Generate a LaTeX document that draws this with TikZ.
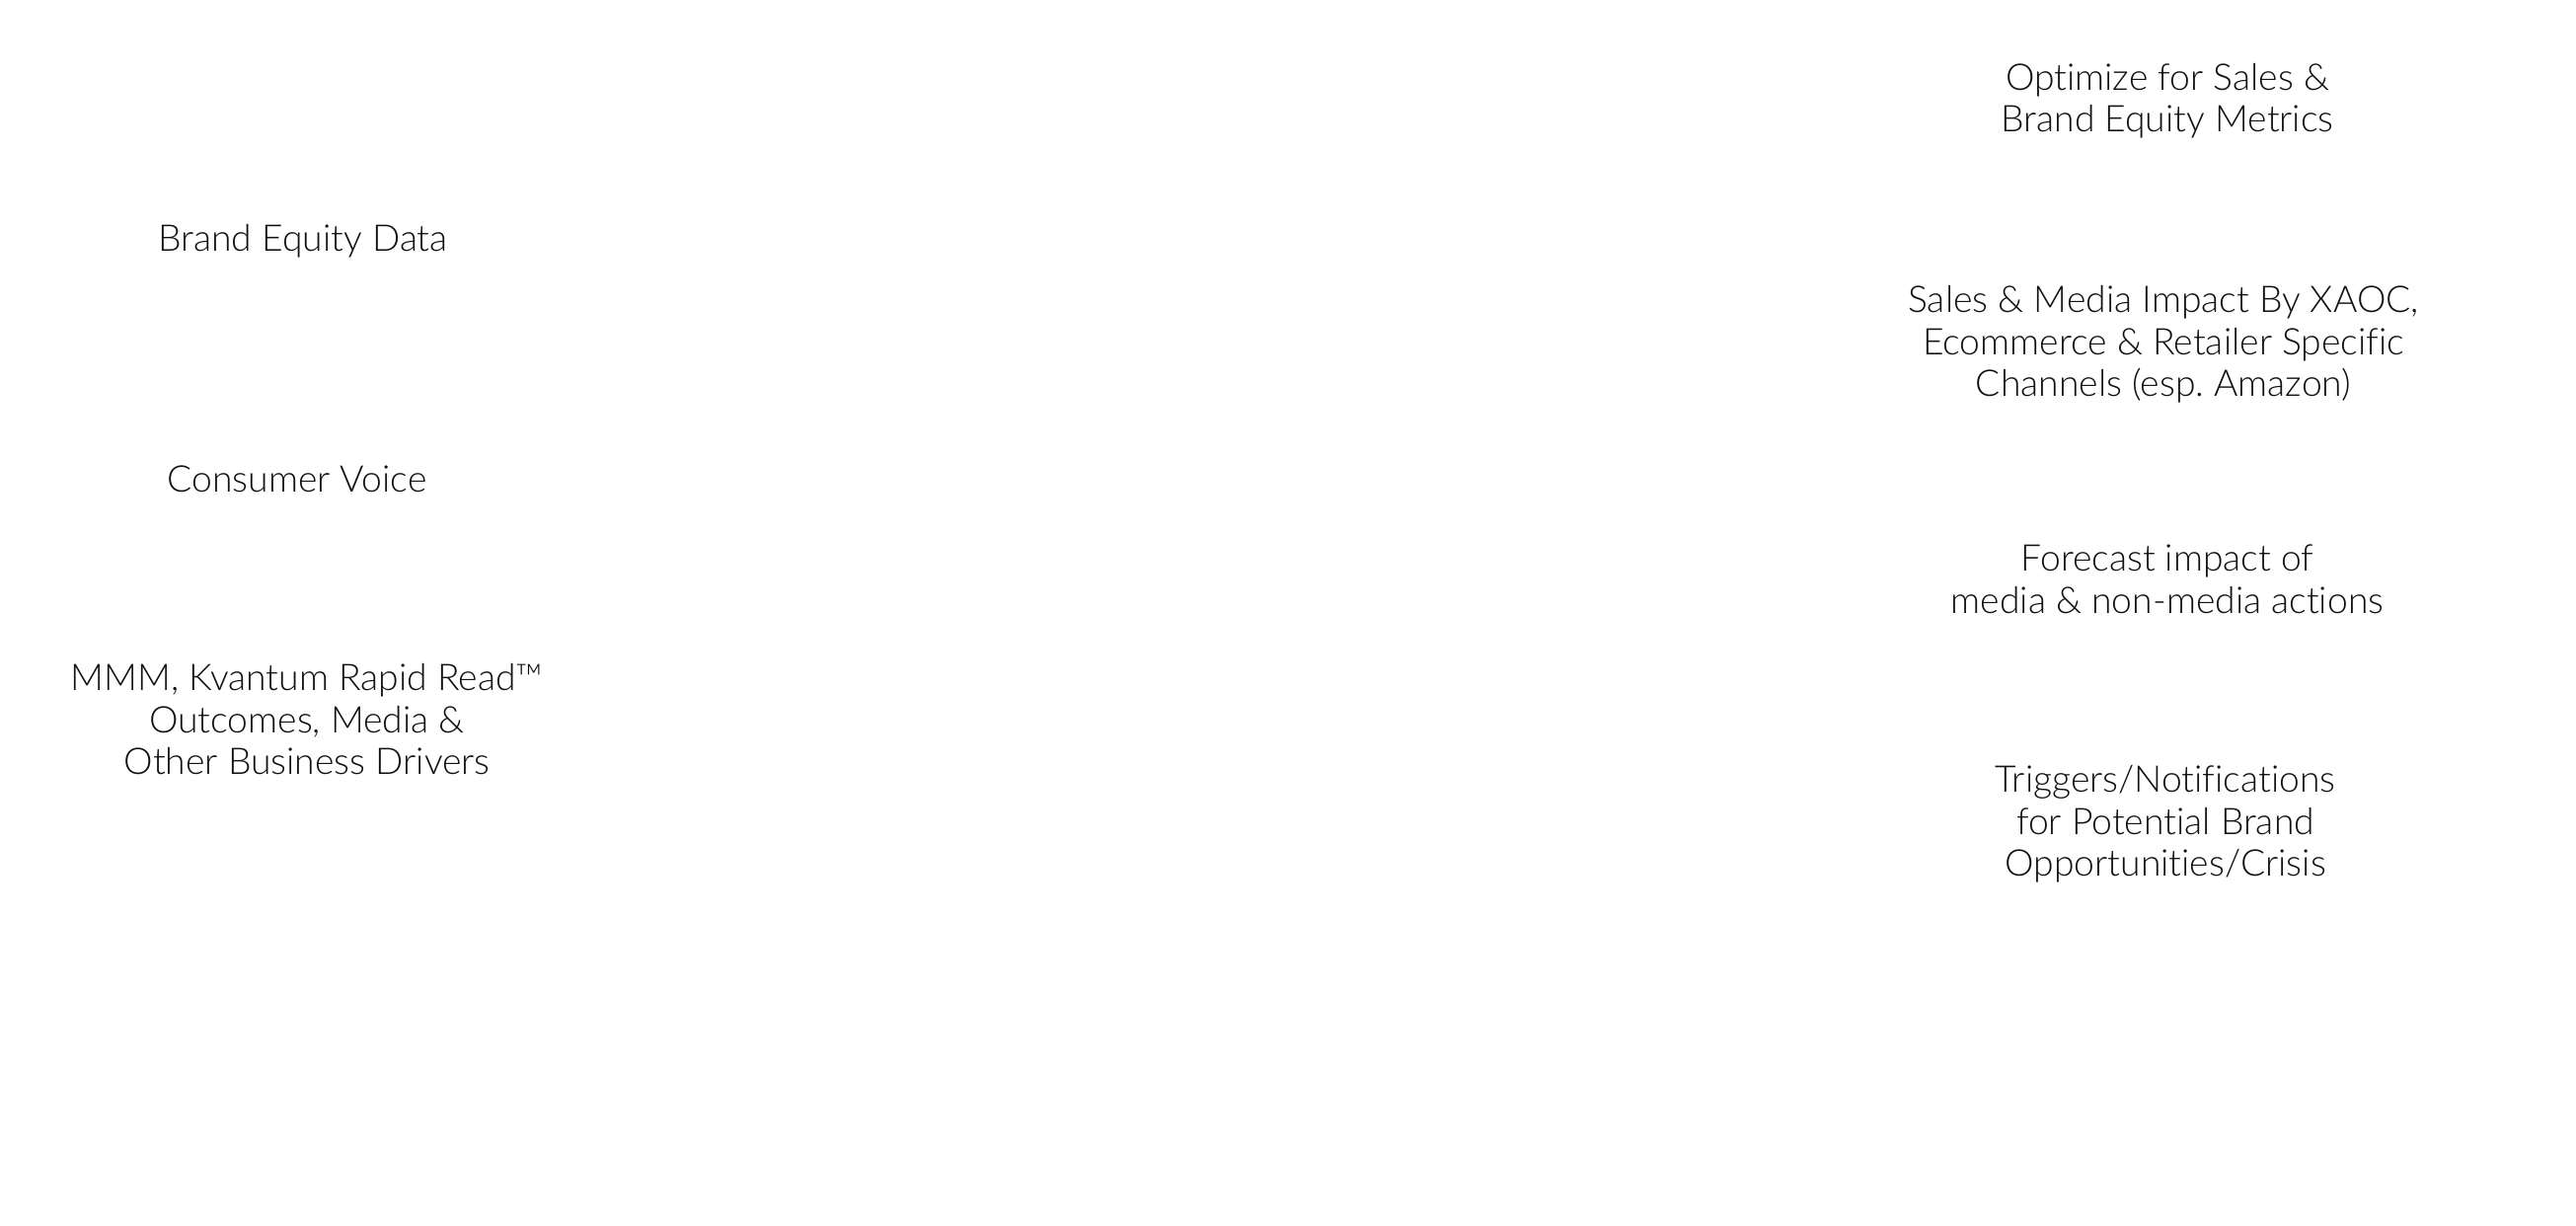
\documentclass[tikz,border=0pt]{standalone}
\usepackage{fontspec}
\setmainfont{Lato Light}[Ligatures=NoCommon]
\usepackage{tikz}
\usetikzlibrary{positioning}
\definecolor{ink}{HTML}{111111}
\frenchspacing

\begin{document}
\begin{tikzpicture}[
  x=0.01cm, y=-0.01cm,
  font=\fontsize{10.6}{12.1}\selectfont,
  src/.style={text=ink, align=center, inner sep=0pt},
  goal/.style={text=ink, align=center, inner sep=0pt},
]
\useasboundingbox (0,0) rectangle (2610,1241);

% inputs
\node[src] (equity) at (307,244) {Brand Equity Data};
\node[src] (voice) at (301,485) {Consumer Voice};
\node[src] (drivers) at (311,729)
  {MMM, Kvantum Rapid Read\texttrademark\\ Outcomes, Media \&\\ Other Business Drivers};

% outputs
\node[goal] (optim) at (2196,102) {Optimize for Sales \&\\ Brand Equity Metrics};
\node[goal] (impact) at (2192,349)
  {Sales \& Media Impact By XAOC,\\ Ecommerce \& Retailer Specific\\ Channels (esp. Amazon)};
\node[goal] (fcast) at (2196,587) {Forecast impact of\\ media \& non-media actions};
\node[goal] (trig) at (2194,835)
  {Triggers/Notifications\\ for Potential Brand\\ Opportunities/Crisis};

\end{tikzpicture}
\end{document}
